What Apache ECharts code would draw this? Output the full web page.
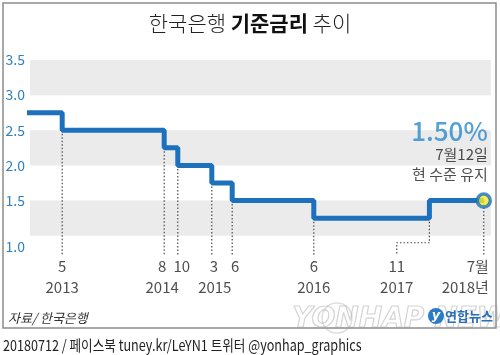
<!DOCTYPE html>
<html>
<head>
<meta charset="utf-8">
<script src="https://cdn.jsdelivr.net/npm/echarts@6/dist/echarts.min.js"></script>
<style>
html,body{margin:0;padding:0;background:#fff;}
#c{width:500px;height:355px;}
</style>
</head>
<body>
<div id="c"></div>
<script>
// ---- data ----
const changeDates = ['2012-10','2013-05','2014-08','2014-10','2015-03','2015-06','2016-06','2017-11','2018-07'];
const rates       = [2.75, 2.5, 2.25, 2.0, 1.75, 1.5, 1.25, 1.5, 1.5];
const monthLabels = [null, '5', '8', '10', '3', '6', '6', '11', '7월'];
const yearLabels  = [null, '2013', '2014', null, '2015', null, '2016', '2017', '2018년'];
const yTicks      = [1.0, 1.5, 2.0, 2.5, 3.0, 3.5];
const bands       = [[1.0, 1.5], [2.0, 2.5], [3.0, 3.5]];
const titleParts  = ['한국은행', '기준금리', '추이'];
const currentRate = '1.50%';
const noteLines   = ['7월12일', '현 수준 유지'];
const sourceText  = '자료/ 한국은행';
const footerText  = '20180712 / 페이스북 tuney.kr/LeYN1 트위터 @yonhap_graphics';

// ---- helpers ----
function monthIndex(s){ const [y,m] = s.split('-').map(Number); return (y-2013)*12 + (m-1); }
const xs = changeDates.map(monthIndex);

const BLUE = '#1c70bc';
const LEADER_BOTTOM = 0.73;
const MONTH_Y = 0.56;
const YEAR_Y = 0.27;
const JOG_IDX = 7;          // 2017-11 leader jogs left
const JOG = 4.8, JOG_Y = 0.9;

// label style tweaks (index -> style), kept apart from the data
const monthLabelStyle = { 2: {offset:[-2,0]}, 3: {offset:[4,0]}, 4: {offset:[2,0]}, 5: {offset:[3,0]}, 8: {align:'right', offset:[5,0]} };
const yearLabelStyle  = { 2: {offset:[-2,0]}, 4: {offset:[3,0]}, 8: {align:'right', offset:[5,0]} };

const leaderSeries = [];
for (let i = 1; i < xs.length; i++) {
  const top = Math.min(rates[i-1], rates[i]);
  const x = xs[i];
  const pts = (i === JOG_IDX)
    ? [[x, top], [x, JOG_Y], [x - JOG, JOG_Y], [x - JOG, LEADER_BOTTOM]]
    : [[x, top], [x, LEADER_BOTTOM]];
  leaderSeries.push({
    type:'line', data: pts, symbol:'none', silent:true, z:1, clip:false,
    lineStyle:{color:'#4a4a4a', width:1.2, type:[1.5,2]}
  });
}

const labelFont = {fontFamily:'Noto Sans CJK KR', fontSize:15, color:'#222'};
const monthData = [], yearData = [];
for (let i = 1; i < xs.length; i++) {
  const lx = (i === JOG_IDX) ? xs[i] - JOG : xs[i];
  if (monthLabels[i]) {
    const it = {value:[lx, MONTH_Y], name: monthLabels[i]};
    if (monthLabelStyle[i]) it.label = monthLabelStyle[i];
    monthData.push(it);
  }
  if (yearLabels[i]) {
    const it = {value:[lx, YEAR_Y], name: yearLabels[i]};
    if (yearLabelStyle[i]) it.label = yearLabelStyle[i];
    yearData.push(it);
  }
}
function labelSeries(data){
  return {
    type:'scatter', data, symbolSize:1, itemStyle:{color:'rgba(0,0,0,0)'}, silent:true, clip:false,
    label:{show:true, position:'inside', formatter:p=>p.name, ...labelFont}
  };
}

const chart = echarts.init(document.getElementById('c'), null, {renderer:'canvas'});
chart.setOption({
  animation:false,
  backgroundColor:'#fff',
  grid:{left:30, right:9, top:60, bottom:49},
  xAxis:{type:'value', min:-0.735, max:67.06, show:false},
  yAxis:{
    type:'value', min:0, max:3.5, interval:0.5,
    axisLine:{show:false}, axisTick:{show:false}, splitLine:{show:false},
    axisLabel:{
      margin:5, color:'#2f80c2', fontSize:14, fontFamily:'Noto Sans CJK KR',
      formatter:v => yTicks.some(t=>Math.abs(t-v)<1e-6) ? (Math.abs(v-1)<1e-6 ? '{low|'+v.toFixed(1)+'}' : v.toFixed(1)) : '',
      rich:{low:{color:'#2f80c2', fontSize:14, fontFamily:'Noto Sans CJK KR', padding:[22,0,0,0]}}
    }
  },
  series:[
    {
      type:'line', step:'end', data: xs.map((x,i)=>[x, rates[i]]), symbol:'none', z:3, clip:true,
      lineStyle:{color:BLUE, width:5},
      markArea:{silent:true, itemStyle:{color:'#ebebeb'},
        data: bands.map(b=>[{yAxis:b[0], xAxis:-0.735},{yAxis:b[1], xAxis:67.06}])}
    },
    ...leaderSeries,
    labelSeries(monthData),
    labelSeries(yearData),
    {
      type:'scatter', z:5, data:[[xs[xs.length-1], rates[rates.length-1]]],
      symbol:'circle', symbolSize:13,
      itemStyle:{color:'#f2ee2a', borderColor:BLUE, borderWidth:3.5},
      label:{show:true, position:'top', distance:8, align:'right', offset:[4,0],
        formatter:'{big|'+currentRate+'}\n{s|'+noteLines[0]+'}\n{s|'+noteLines[1]+'}',
        rich:{
          big:{fontSize:26, fontWeight:500, color:'#2a88ca', fontFamily:'Noto Sans CJK KR', lineHeight:27, align:'right'},
          s:{fontSize:15, color:'#222', fontFamily:'Noto Sans CJK KR', lineHeight:20, align:'right'}
        }
      }
    }
  ],
  graphic:[
    {type:'rect', shape:{x:3, y:3, width:493, height:325}, style:{fill:null, stroke:'#8c8c8c', lineWidth:1.5}, z:-1},
    {type:'text', x:250, y:23, style:{
      text:'{l|'+titleParts[0]+' }{b|'+titleParts[1]+'}{l| '+titleParts[2]+'}',
      align:'center', verticalAlign:'middle',
      rich:{
        l:{fontSize:21, fontWeight:300, fill:'#222', fontFamily:'Noto Sans CJK KR'},
        b:{fontSize:21, fontWeight:'bold', fill:'#111', fontFamily:'Noto Sans CJK KR'}
      }}},
    {type:'circle', shape:{cx:337, cy:318, r:15}, style:{fill:null, stroke:'rgba(160,160,160,0.35)', lineWidth:1.5}},
    {type:'text', x:410, y:320, z:0, style:{text:'YONHAP NEWS', align:'center', verticalAlign:'middle',
      font:'italic bold 28px "DejaVu Sans"', fill:'rgba(255,255,255,0)', stroke:'rgba(160,160,160,0.45)', lineWidth:1.2}},
    {type:'text', x:8, y:318, style:{text:sourceText, verticalAlign:'middle',
      font:'italic 13px "Noto Sans CJK KR"', fill:'#333'}},
    {type:'circle', shape:{cx:436, cy:316, r:8}, style:{fill:'#2a7cc4'}},
    {type:'text', x:436, y:316, style:{text:'y', align:'center', verticalAlign:'middle', font:'italic bold 13px "DejaVu Sans"', fill:'#fff'}},
    {type:'text', x:445, y:316, style:{text:'연합뉴스', verticalAlign:'middle', font:'bold 13px "Noto Sans CJK KR"', fill:'#2a6fb8'}},
    {type:'text', x:3, y:345, scaleX:0.84, style:{text:footerText, verticalAlign:'middle',
      font:'15px "Noto Sans CJK KR"', fill:'#222'}}
  ]
});
</script>
</body>
</html>
